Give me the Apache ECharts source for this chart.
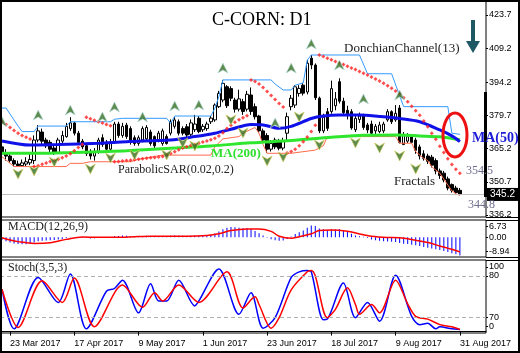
<!DOCTYPE html>
<html>
<head>
<meta charset="utf-8">
<script src="https://cdn.jsdelivr.net/npm/echarts@6/dist/echarts.min.js"></script>
<style>
html, body { margin: 0; padding: 0; background: #fff; }
#main { width: 520px; height: 353px; }
</style>
</head>
<body>
<div id="main"></div>
<script>
// trading days, first bar and the days MT4 prints under the chart
const firstDay = '2017-03-21';
const holidays = ['2017-04-14', '2017-05-29', '2017-07-04', '2017-09-04'];
const slotCount = 121; // 115 bars + empty shift on the right
const labelDays = ['2017-03-23', '2017-04-17', '2017-05-09', '2017-06-01',
  '2017-06-23', '2017-07-18', '2017-08-09', '2017-08-31'];

// daily candles (index 0 = 21 Mar 2017)
const open = [366,363,362,360,358.5,357.8,358.5,359,360,369,
  372.5,369,368,365.5,363.5,368.5,370.5,374,376.5,372,
  368.5,366.5,364,362,364,370,368,365,368,376,
  371,375.5,374,370,367.5,369,369.5,372.5,370.5,369,
  367.5,370.5,372,375,377,374,374.8,371.5,373.5,378.5,
  373.5,374,377,377.8,383.6,386.5,392.3,391.5,386.5,382.5,
  385.8,382.5,388.7,383.6,379.5,373,371,365,369,368.3,
  365.5,372,383.6,384.3,389.4,393,390,404.8,401.8,387.3,
  373,381.4,381.5,384,394.5,386,382,381.4,373.5,378,
  379.5,375.6,376,373,372.7,373,377.8,381.4,377.8,383,
  367,368.5,370.5,369,366,363,362,361.5,360,355.5,
  354.5,352,349.5,348,347];
const close = [363,362,360,358.5,357.8,359,359.5,360.5,369,373,
  368.5,366.5,365,363.5,369,371,375,376.5,372,368,
  366,363,362,364,369,367,365,368,376,371,
  375,370.5,368,367.5,370,374,374.5,367.5,366.5,372,
  373,367.5,377,377.8,372,372,371.2,376.5,376,372.7,
  375,376,378.6,384.3,389.4,393.8,384,387.3,382.5,387,
  381.5,389,381.5,379.2,373,369,365,367.5,366,365.4,
  368.5,379.2,387.3,392.3,391.6,389.5,402.6,401.8,387.5,373,
  379,374.1,391.5,387,386,381,380.5,374.3,378.5,379.5,
  374.5,373.4,372,375,375.6,376,381.4,377,380.7,368,
  371,370.5,368,364.5,362,361,359.7,358,355.5,353.5,
  351.5,348,347,346,345.2];
const high = [368,365,363.5,361,360,360.5,361.5,363,371,375.5,
  374,370,369,367,370,373,376.5,379,377,373,
  369.5,367.5,365,365.5,370,371.5,369,369.5,377,377,
  376.5,376.5,375,371,371,375,375.5,373.5,371,373,
  374,371.5,378,379,378,375,376,378,380,379.5,
  376,377,379.5,385,390.5,395.3,393,392.5,387.5,391,
  387,390.5,392,385,380,374,372,369,370,369.5,
  370,381,388.7,393,393,394,404,406.2,402.5,388,
  380.5,383,395,390,396,387.5,384,382.5,379.5,381,
  380.5,376.5,377.5,376,377,377,382.5,382,384.3,384.3,
  372.5,372,371.5,370,367,364.5,363,362.5,361,356.5,
  355.5,353,350,349,348];
const low = [362,360,359,357.5,357.4,357.5,357.6,358,358.5,368,
  367,365.5,363.5,362.5,363,367.5,370,373,371,367,
  365,362,360.5,360,363,366,363.5,364,367.5,370,
  370,369.5,367,366.5,366.5,368,369,366.5,365.5,368,
  366.5,367,371,374,371,371,370,370.5,372.5,372,
  372.5,373,376,377,383,385.5,383,386,381,381.5,
  380,381.5,380,378,372,368,363.3,364,365,364.5,
  364.5,369,382,383,388,388.5,389,400,386.5,372,
  372,373,380.5,382,385,379.5,378,373.5,372.5,376.5,
  373.5,372,370.5,371.5,372,372,377,376,377,367.5,
  367.6,367.7,367.6,363,360.5,360,358.5,357,354,352,
  350.5,347,346,345,344.8];

// indicator lines as [bar, value]
const ma50 = [[0,368.6],[7,366.8],[14,367],[24,367.6],[31,368.3],[42,369],[48,370.5],
  [53,372],[57,373.7],[62,375.8],[65,375.6],[69,374.1],[72,375],[77,378.4],[80,379.5],
  [84,380],[89,380],[94,379.3],[99,378.4],[104,377],[109,373.4],[112,370.8],[114,368.3]];
const ma200 = [[0,363.2],[9,363.2],[17,363.5],[24,363.9],[31,364.3],[42,365.4],[52,366.4],
  [62,367.8],[72,368.8],[82,370.2],[90,371.1],[99,371.2],[104,370.8],[109,370.4],[114,369.1]];
const donchUp = [[0,383],[1,383],[4,375.1],[5,372.7],[8,372.7],[9,375.1],[16,375.1],[17,377],
  [27,377],[28,378.1],[30,378.5],[41,378.5],[42,376.3],[43,379.5],[52,379.5],[53,382.9],
  [54,388],[55,395.3],[67,395.3],[68,393.5],[70,390.9],[72,390.9],[73,393],[75,394],
  [76,404],[77,406.2],[89,406.2],[91,398],[97,398],[100,383.6],[111,383.6],[112,372],[114,371.5]];
const donchLow = [[0,361.7],[3,357.4],[16,357.4],[17,358.8],[20,358.8],[22,359.5],[32,359.5],
  [34,360.6],[40,362.4],[52,362.4],[53,366.1],[55,369.5],[59,370.5],[60,372],[63,374.5],
  [64,372],[65,367],[66,363.2],[72,363.2],[78,364.6],[80,366.5],[81,370.5],[98,370.5],
  [99,367.6],[102,367.6],[103,363.9],[105,361],[106,360],[107,357.3],[109,354.5],
  [111,349.3],[112,346.8],[113,345.5],[114,344.8]];
const sar = [377,375.8,374.5,373.2,372,371,370.2,369.5,
  357.4,357.8,358.4,359,359.6,360.1,360.6,361.2,362,363,364.3,365.7,367,
  379,378.3,377.6,377,376.4,375.8,375.2,
  359.5,359.6,359.8,360,360.2,360.4,360.6,360.8,361,361.2,361.4,361.6,361.8,
  362.4,363.1,363.9,364.7,365.5,366.1,366.6,367.1,367.6,368.1,368.6,369.1,369.8,
  370.8,372.2,374,375.5,376.8,377.9,378.8,379.6,
  395.3,394.6,393.5,392,390.2,388.5,386.7,385,383.4,
  363.3,364,365,366.5,368.3,370.3,372.7,375.5,
  406.2,405.5,404.8,404.1,403.4,402.7,402,401.3,400.5,399.8,399,398.2,397.5,396.6,
  395.7,394.8,393.8,392.8,391.7,390.5,389.2,387.5,385.7,383.8,381.8,379.8,377.3,
  374.8,372,369.3,366.3,363.5,360.8,358.3,356.2,354.5];
const fractalUp = [[0,377],[9,379.9],[17,382.1],[25,379.1],[28,383.5],[35,379.1],[43,383.9],
  [49,384.3],[55,400.5],[68,376.5],[72,400.5],[77,411],[84,401.8],[90,387],[99,388.7]];
const fractalDown = [[4,354.1],[8,355.5],[13,359.4],[22,356.3],[27,361.1],[33,362.5],
  [41,362.5],[45,367.7],[48,366.4],[57,377.8],[60,372.1],[66,359.8],[70,361.6],[74,379.1],
  [79,366.8],[88,367.7],[94,365.5],[99,362],[103,356.3]];

// MACD(12,26,9): histogram per bar, signal line
const macdHist = [-1.5,-2.5,-3.2,-3.8,-4.2,-4.3,-4.3,-4.0,-3.2,-2.5,
  -2.2,-2.0,-1.8,-1.7,-1.3,-1.0,-0.6,-0.2,0.2,0.1,
  -0.2,-0.5,-0.7,-0.6,-0.3,-0.2,-0.3,-0.1,0.6,0.8,
  1.2,0.9,0.7,0.5,0.5,0.8,1.0,0.8,0.5,0.6,
  0.7,0.6,0.9,1.2,1.0,0.9,0.8,1.0,1.1,1.0,
  1.0,1.1,1.4,2.3,3.6,5.0,6.0,6.5,6.3,6.0,
  5.6,5.6,5.3,4.0,2.6,1.2,-0.3,-1.2,-1.8,-2.2,
  -2.0,-1.0,0.5,2.0,3.2,4.2,6.0,7.4,7.0,5.5,
  5.0,4.6,4.8,4.8,5.0,4.3,3.5,2.2,1.2,0.6,
  0.3,-0.5,-1.3,-1.8,-2.2,-2.5,-2.6,-2.8,-3.0,-3.6,
  -4.0,-4.2,-4.6,-5.0,-5.5,-6.0,-6.5,-7.0,-7.5,-8.0,
  -8.6,-9.2,-9.9,-10.6,-11.3];
const macdSignal = [[0,-0.3],[2,-1.7],[4,-2.7],[8,-3.8],[12,-3.4],[16,-1.3],[20,0.2],[24,0],
  [29,0],[33,0.4],[37,0.7],[46,0.7],[51,1.1],[54,2.2],[57,4.2],[61,5.2],[64,5.2],[67,3.7],
  [69,0.7],[72,-0.6],[74,0.4],[77,2.2],[79,4.2],[82,4.6],[86,3.8],[89,2.1],[92,0.7],
  [96,-0.1],[99,-0.3],[102,-1.4],[106,-3.3],[109,-5.4],[112,-7.5],[114,-9.2]];

// Stoch(3,5,3): %K and %D
const stochK = [[0,61],[3,4],[9,78],[14,42],[17,83],[21,4],[26,58],[28,62],[30,74],[34,27],
  [37,69],[39,44],[41,44],[44,74],[48,37],[49,44],[54,90],[59,25],[62,56],[65,5],[68,20],
  [72,78],[74,86],[76,88],[77,86],[80,17],[81,18],[85,70],[88,20],[91,42],[94,15],[98,81],
  [102,22],[104,10],[106,12],[108,4],[109,7],[112,4],[114,3]];
const stochD = [[0,61],[4,6],[10,73],[15,42],[18,77],[23,7],[30,67],[35,35],[38,56],[40,44],
  [44,67],[49,42],[56,86],[60,34],[63,50],[64,39],[67,5],[69,20],[72,60],[76,86],[77,88],
  [78,80],[81,20],[83,32],[86,63],[88,39],[89,25],[92,39],[94,27],[98,74],[101,40],[103,22],
  [106,18],[109,10],[112,7],[114,3]];

const lastPrice = 345.2;
const priceTicks = [336.2, 350.7, 365.2, 379.7, 394.2, 409.2, 423.7];
const macdTicks = [-8.94, 0, 6.73];
const stochLevels = [20, 80];
// MT4 pulls the 0 / 100 captions inside the window, so they sit at 7 / 93
const stochTicks = [7, 20, 80, 93];
const stochText = { 7: '0', 20: '70', 80: '80', 93: '100' };

function tradingDays(start, count) {
  const out = [];
  const d = new Date(start + 'T00:00:00Z');
  while (out.length < count) {
    const s = d.toISOString().slice(0, 10);
    const wd = d.getUTCDay();
    if (wd !== 0 && wd !== 6 && holidays.indexOf(s) < 0) out.push(s);
    d.setUTCDate(d.getUTCDate() + 1);
  }
  return out;
}
const months = ['Jan','Feb','Mar','Apr','May','Jun','Jul','Aug','Sep','Oct','Nov','Dec'];
function fmtDay(s) {
  const p = s.split('-');
  return (+p[2]) + ' ' + months[+p[1] - 1] + ' ' + p[0];
}

const days = tradingDays(firstDay, slotCount);
const candles = open.map((o, i) => [o, close[i], low[i], high[i]]);

const serif = '"Liberation Serif", "DejaVu Serif", serif';
const sans = '"Liberation Sans", Arial, sans-serif';

var myChart = echarts.init(document.getElementById('main'));

function catAxis(idx, bottom) {
  return {
    type: 'category',
    gridIndex: idx,
    data: days,
    boundaryGap: true,
    axisLine: { show: bottom, lineStyle: { color: '#000' } },
    axisTick: {
      show: bottom,
      alignWithLabel: true,
      length: 4,
      interval: (i, v) => labelDays.indexOf(v) >= 0,
      lineStyle: { color: '#000' }
    },
    axisLabel: {
      show: bottom,
      interval: (i, v) => labelDays.indexOf(v) >= 0,
      formatter: fmtDay,
      align: 'left',
      color: '#000',
      fontFamily: sans,
      fontSize: 9,
      margin: 6
    },
    splitLine: { show: false }
  };
}

function valAxis(idx, min, max, ticks, fmt) {
  return {
    type: 'value',
    gridIndex: idx,
    position: 'right',
    min: min,
    max: max,
    splitLine: { show: false },
    axisLine: { show: false },
    axisTick: { show: true, customValues: ticks, length: 2, lineStyle: { color: '#000' } },
    axisLabel: {
      customValues: ticks,
      formatter: fmt,
      color: '#000',
      fontFamily: sans,
      fontSize: 9,
      margin: 3
    }
  };
}

var option = {
  animation: false,
  grid: [
    { left: 0, top: 1, width: 486, height: 216, show: true, borderColor: '#000', borderWidth: 1 },
    { left: 0, top: 220, width: 486, height: 37, show: true, borderColor: '#000', borderWidth: 1 },
    { left: 0, top: 260, width: 486, height: 73, show: true, borderColor: '#000', borderWidth: 1 }
  ],
  xAxis: [catAxis(0, false), catAxis(1, false), catAxis(2, true)],
  yAxis: [
    valAxis(0, 335.33, 429.82, priceTicks, v => v.toFixed(1)),
    valAxis(1, -12.31, 10.81, macdTicks, v => v.toFixed(2)),
    valAxis(2, -2, 103, stochTicks, v => stochText[v])
  ],
  series: [
    {
      name: 'C-CORN',
      type: 'candlestick',
      xAxisIndex: 0,
      yAxisIndex: 0,
      data: candles,
      barWidth: 3,
      itemStyle: { color: '#fff', color0: '#000', borderColor: '#000', borderColor0: '#000', borderWidth: 1 },
      markLine: {
        silent: true,
        symbol: 'none',
        lineStyle: { color: '#c0c0c0', width: 1, type: 'solid' },
        label: {
          show: true,
          position: 'end',
          distance: 1,
          formatter: lastPrice.toFixed(1),
          color: '#fff',
          backgroundColor: '#000',
          padding: [2, 3, 1, 3],
          fontFamily: sans,
          fontSize: 10
        },
        data: [{ yAxis: lastPrice }]
      },
      z: 2
    },
    {
      name: 'DonchianUp', type: 'line', xAxisIndex: 0, yAxisIndex: 0, data: donchUp,
      showSymbol: false, lineStyle: { color: '#3399ff', width: 1 }, z: 3
    },
    {
      name: 'DonchianLow', type: 'line', xAxisIndex: 0, yAxisIndex: 0, data: donchLow,
      showSymbol: false, lineStyle: { color: '#ff6a4d', width: 1 }, z: 3
    },
    {
      name: 'MA(200)', type: 'line', xAxisIndex: 0, yAxisIndex: 0, data: ma200, smooth: 0.3,
      showSymbol: false, lineStyle: { color: '#2ee62e', width: 3 }, z: 4
    },
    {
      name: 'MA(50)', type: 'line', xAxisIndex: 0, yAxisIndex: 0, data: ma50, smooth: 0.3,
      showSymbol: false, lineStyle: { color: '#1010e8', width: 3 }, z: 4
    },
    {
      name: 'SAR', type: 'scatter', xAxisIndex: 0, yAxisIndex: 0, data: sar,
      symbol: 'diamond', symbolSize: 4,
      itemStyle: { color: '#ff2020' }, z: 5
    },
    {
      name: 'FractalUp', type: 'scatter', xAxisIndex: 0, yAxisIndex: 0, data: fractalUp,
      symbol: 'path://M5,0 L10,10 L5,7 L0,10 Z', symbolSize: [10, 10],
      itemStyle: { color: '#356f22', borderColor: '#b8dce0', borderWidth: 0.8 }, z: 6
    },
    {
      name: 'FractalDown', type: 'scatter', xAxisIndex: 0, yAxisIndex: 0, data: fractalDown,
      symbol: 'path://M0,0 L5,3 L10,0 L5,10 Z', symbolSize: [10, 10],
      itemStyle: { color: '#356f22', borderColor: '#d8d060', borderWidth: 0.8 }, z: 6
    },
    {
      name: 'MACD', type: 'bar', xAxisIndex: 1, yAxisIndex: 1, data: macdHist,
      barWidth: 1, itemStyle: { color: '#0000ff' }
    },
    {
      name: 'Signal', type: 'line', xAxisIndex: 1, yAxisIndex: 1, data: macdSignal, smooth: 0.3,
      showSymbol: false, lineStyle: { color: '#ff0000', width: 1.5 }
    },
    {
      name: '%K', type: 'line', xAxisIndex: 2, yAxisIndex: 2, data: stochK, smooth: 0.3,
      showSymbol: false, lineStyle: { color: '#0000ff', width: 1.5 },
      markLine: {
        silent: true,
        symbol: 'none',
        label: { show: false },
        lineStyle: { color: '#b0b0b0', type: [4, 3], width: 1 },
        data: stochLevels.map(v => ({ yAxis: v }))
      }
    },
    {
      name: '%D', type: 'line', xAxisIndex: 2, yAxisIndex: 2, data: stochD, smooth: 0.3,
      showSymbol: false, lineStyle: { color: '#ff0000', width: 1.5 }
    }
  ],
  graphic: [
    { type: 'rect', shape: { x: 1, y: 1, width: 518, height: 351 }, style: { fill: null, stroke: '#000', lineWidth: 2 }, z: 50 },
    { type: 'line', shape: { x1: 486, y1: 217.5, x2: 520, y2: 217.5 }, style: { stroke: '#000', lineWidth: 1 }, z: 50 },
    { type: 'line', shape: { x1: 486, y1: 220.5, x2: 520, y2: 220.5 }, style: { stroke: '#000', lineWidth: 1 }, z: 50 },
    { type: 'line', shape: { x1: 486, y1: 257.5, x2: 520, y2: 257.5 }, style: { stroke: '#000', lineWidth: 1 }, z: 50 },
    { type: 'line', shape: { x1: 486, y1: 260.5, x2: 520, y2: 260.5 }, style: { stroke: '#000', lineWidth: 1 }, z: 50 },
    { type: 'rect', shape: { x: 484, y: 92, width: 3, height: 105 }, style: { fill: '#000' }, z: 40 },
    { type: 'text', left: 212, top: 11, style: { text: 'C-CORN: D1', font: '18px ' + serif, fill: '#000' }, z: 60 },
    { type: 'polygon', shape: { points: [[471, 20], [475, 20], [475, 41], [480, 41], [473, 53], [466, 41], [471, 41]] },
      style: { fill: '#1d5864' }, z: 60 },
    { type: 'text', left: 344, top: 42, style: { text: 'DonchianChannel(13)', font: '13px ' + serif, fill: '#222' }, z: 60 },
    { type: 'text', left: 472, top: 131, style: { text: 'MA(50)', font: 'bold 14px ' + serif, fill: '#1c1cd8' }, z: 60 },
    { type: 'text', left: 211, top: 147, style: { text: 'MA(200)', font: 'bold 13px ' + serif, fill: '#2fe02f' }, z: 60 },
    { type: 'text', left: 118, top: 164, style: { text: 'ParabolicSAR(0.02,0.2)', font: '12px ' + serif, fill: '#222' }, z: 60 },
    { type: 'text', left: 394, top: 175, style: { text: 'Fractals', font: '13px ' + serif, fill: '#222' }, z: 60 },
    { type: 'text', left: 466, top: 165, style: { text: '354.5', font: '12px ' + serif, fill: '#6e6e8c' }, z: 60 },
    { type: 'text', left: 468, top: 199, style: { text: '344.8', font: '12px ' + serif, fill: '#6e6e8c' }, z: 60 },
    { type: 'text', left: 8, top: 221, style: { text: 'MACD(12,26,9)', font: '12px ' + serif, fill: '#222' }, z: 60 },
    { type: 'text', left: 8, top: 262, style: { text: 'Stoch(3,5,3)', font: '12px ' + serif, fill: '#222' }, z: 60 },
    { type: 'ellipse', shape: { cx: 455, cy: 135, rx: 12, ry: 22 }, style: { fill: null, stroke: '#ee1111', lineWidth: 3 }, z: 60 }
  ]
};

myChart.setOption(option);
</script>
</body>
</html>
